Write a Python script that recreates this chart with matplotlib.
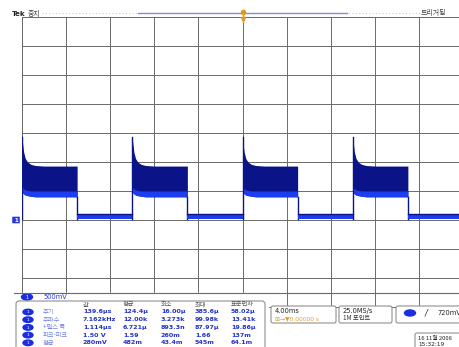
import matplotlib
matplotlib.use("Agg")
import matplotlib.pyplot as plt
from matplotlib.patches import FancyBboxPatch, Ellipse, Rectangle

# scope settings
time_div_ms = 4.0
volt_div = 0.5

# square envelope edges (ms)
rise_times = [-20, -10, 0, 10]
fall_times = [-15, -5, 5, 15]
low_starts = [-15, -5, 5, 15]
low_ends = [-10, 0, 10, 20]

# envelope of the high part, time after rising edge (ms) and volts
env_t = [0, 0.05, 0.15, 0.3, 0.5, 0.8, 1.2, 2.0, 5.0]
env_top = [1.43, 1.33, 1.17, 1.06, 1.00, 0.96, 0.94, 0.93, 0.93]
env_bot = [0.49, 0.47, 0.45, 0.43, 0.42, 0.41, 0.40, 0.40, 0.40]
env_lit = [0.58, 0.56, 0.54, 0.52, 0.51, 0.50, 0.50, 0.50, 0.50]

low_top = 0.10
low_bot = 0.02

# measurement table
meas_cols = ["값", "평균", "최소", "최대", "표준편차"]
meas_names = ["주기", "주파수", "+펄스 폭", "피크-피크", "평균"]
meas_vals = [
    ["139.6μs", "124.4μ", "16.00μ", "385.6μ", "58.02μ"],
    ["7.162kHz", "12.00k", "3.273k", "99.98k", "13.41k"],
    ["1.114μs", "6.721μ", "893.3n", "87.97μ", "19.86μ"],
    ["1.50 V", "1.59", "260m", "1.66", "137m"],
    ["280mV", "482m", "43.4m", "545m", "64.1m"],
]

navy = "#0b1388"
bright = "#1d3df0"
gridc = "#6a6a6a"
kfont = ["Noto Sans CJK KR", "DejaVu Sans"]

W, H = 460, 347
fig = plt.figure(figsize=(W / 100, H / 100), dpi=100)
fig.patch.set_facecolor("white")

# main scope axes, pixel box: x 22..463, y 17..307
x0, x1, y0, y1 = 22, 463, 17, 307
ax = fig.add_axes([x0 / W, 1 - y1 / H, (x1 - x0) / W, (y1 - y0) / H])
ax.set_xlim(-20, 20)
ax.set_ylim(-1.5, 3.5)
ax.set_xticks([-20 + i * time_div_ms for i in range(11)])
ax.set_yticks([-1.5 + i * volt_div for i in range(11)])
ax.tick_params(length=0, labelleft=False, labelbottom=False)
ax.grid(True, color=gridc, lw=0.7)
for s in ax.spines.values():
    s.set_color(gridc)
    s.set_linewidth(0.7)
ax.spines["top"].set_linestyle((0, (1, 1.5)))

for r in rise_times:
    tt = [r + t for t in env_t]
    ax.fill_between(tt, env_bot, env_top, color=navy, lw=0, zorder=3)
    ax.fill_between(tt, env_bot, env_lit, color=bright, lw=0, zorder=3)
    ax.plot([r, r], [low_bot, env_top[0]], color=navy, lw=1.0, zorder=3)
for f in fall_times:
    ax.plot([f, f], [env_bot[-1], low_bot], color=navy, lw=1.0, zorder=3)
for a, b in zip(low_starts, low_ends):
    ax.fill_between([a, b], [low_bot, low_bot], [low_top, low_top], color=bright, lw=0, zorder=3)
    ax.plot([a, b], [low_top, low_top], color=navy, lw=1.0, zorder=3)

# overlay in pixel coordinates
ov = fig.add_axes([0, 0, 1, 1], zorder=5)
ov.set_xlim(0, W)
ov.set_ylim(H, 0)
ov.axis("off")
ov.patch.set_alpha(0)

# top bar
ov.plot([42, 420], [13, 13], color="#c8c8c8", lw=0.8, ls=(0, (1, 2)))
ov.plot([138, 347], [13, 13], color="#8a8ad8", lw=1.0)
ov.plot([243, 243], [10, 22], color="#e09a20", lw=1.0)
ov.plot([243], [12], marker="o", ms=3, color="#e09a20")
ov.plot([243], [19], marker="v", ms=3, color="#e09a20")
ov.text(12, 14, "Tek", fontsize=5, fontweight="bold", va="center", color="#222")
ov.text(28, 14, "중지", fontsize=5, va="center", color="#444", family=kfont)
ov.text(421, 13, "트리거됨", fontsize=5, va="center", color="#444", family=kfont)

# ground marker
ov.add_patch(FancyBboxPatch((12.5, 217), 7, 6, boxstyle="round,pad=0.3", color="#2a3ad8", lw=0))
ov.text(16, 220.3, "1", fontsize=4, color="white", ha="center", va="center", fontweight="bold")

# bottom readout panel
ov.add_patch(Rectangle((0, 293), 268, 60, color="white", zorder=1))
ov.plot([14, W], [293, 293], color=gridc, lw=0.8)
ov.add_patch(Ellipse((27, 297), 11, 6, color="#1a2ee0"))
ov.text(27, 297.3, "1", fontsize=3.5, color="white", ha="center", va="center")
ov.text(43, 297, "500mV", fontsize=4.8, color="#2a3ad8", va="center")
ov.add_patch(FancyBboxPatch((16, 301), 249, 50, boxstyle="round,pad=0,rounding_size=3",
                            fc="white", ec="#909090", lw=0.8))
col_x = [83, 123, 161, 195, 231]
for cx, c in zip(col_x, meas_cols):
    ov.text(cx, 304.5, c, fontsize=4.5, color="#555", va="center", family=kfont)
for i, (name, vals) in enumerate(zip(meas_names, meas_vals)):
    ry = 312 + i * 7.7
    ov.add_patch(Ellipse((28, ry), 10, 5.5, color="#1a2ee0"))
    ov.text(28, ry + 0.3, "1", fontsize=3.2, color="white", ha="center", va="center")
    ov.text(43, ry, name, fontsize=4.5, color="#7080e0", va="center", family=kfont)
    for cx, v in zip(col_x, vals):
        ov.text(cx, ry, v, fontsize=4.6, color="#2434c8", va="center", fontweight="bold")

# timebase / acquisition / trigger boxes
for bx, bw in [(271, 65), (339, 53), (396, 70)]:
    ov.add_patch(FancyBboxPatch((bx, 306), bw, 17, boxstyle="round,pad=0,rounding_size=2",
                                fc="white", ec="#909090", lw=0.8))
ov.text(275, 311, "4.00ms", fontsize=4.8, va="center", color="#222")
ov.text(275, 318.5, "⊞→▼0.00000 s", fontsize=4.3, va="center", color="#e0a030")
ov.text(343, 311, "25.0MS/s", fontsize=4.8, va="center", color="#222")
ov.text(343, 318.5, "1M 포인트", fontsize=4.5, va="center", color="#333", family=kfont)
ov.add_patch(Ellipse((410, 313), 11, 6, color="#1a2ee0"))
ov.text(425, 313, "/", fontsize=6, va="center", color="#222", style="italic")
ov.text(437, 313, "720mV", fontsize=4.8, va="center", color="#222")

# date box
ov.add_patch(FancyBboxPatch((415, 333), 50, 20, boxstyle="round,pad=0,rounding_size=2",
                            fc="white", ec="#909090", lw=0.8))
ov.text(418, 338.5, "16 11월 2008", fontsize=4.2, va="center", color="#222", family=kfont)
ov.text(418, 345, "15:32:19", fontsize=4.2, va="center", color="#222")

fig.savefig("out.png", dpi=100)
